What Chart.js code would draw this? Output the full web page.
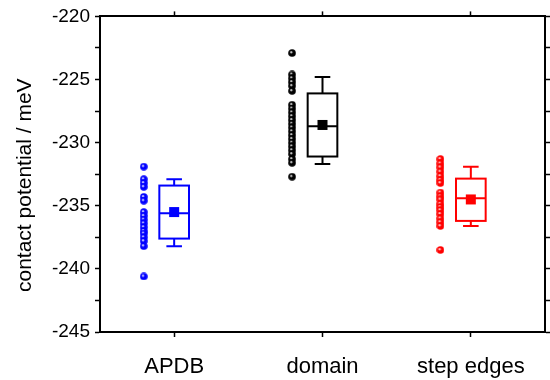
<!DOCTYPE html>
<html>
<head>
<meta charset="utf-8">
<script src="https://cdn.jsdelivr.net/npm/chart.js@4.4.1/dist/chart.umd.min.js"></script>
<style>
  html, body { margin: 0; padding: 0; background: #fff; }
</style>
</head>
<body>
<canvas id="chart" width="550" height="380"></canvas>
<script>
// Categories and colours
const groups = ['APDB', 'domain', 'step edges'];
const groupColors = ['#0000ff', '#000000', '#ff0000'];

const apdbValues = [-231.9, -232.9, -233.2, -233.5, -234.3, -234.6, -235.5, -235.8, -236.1,
    -236.4, -236.7, -237.0, -237.2, -237.5, -237.8, -238.2, -240.6];
const domainValues = [-222.9, -224.6, -224.9, -225.2, -225.5, -225.9, -227.0, -227.3, -227.6,
    -227.9, -228.2, -228.5, -228.8, -229.1, -229.4, -229.7, -230.0, -230.3, -230.6, -230.9,
    -231.3, -231.6, -232.7];
const stepValues = [-231.3, -231.65, -231.95, -232.3, -232.65, -232.95, -233.2, -233.95, -234.25,
    -234.5, -234.85, -235.1, -235.35, -235.65, -236.0, -236.3, -236.6, -238.5];

// Box statistics per group
const boxQ1 = [-237.6, -231.1, -236.2];
const boxQ3 = [-233.4, -226.1, -232.85];
const boxMedian = [-235.6, -228.7, -234.4];
const boxMean = [-235.5, -228.6, -234.5];
const whiskerLow = [-238.2, -231.7, -236.6];
const whiskerHigh = [-232.9, -224.8, -231.9];

// Axis range
const yMin = -245;
const yMax = -220;
const yStep = 2.5;

// Layout / style constants
const FONT = "'Liberation Sans', Arial, sans-serif";
const dotOffset = -0.205;   // dots sit left of the box
const boxWidth = 0.2;       // in category units
const capWidth = 0.105;

const allValues = [apdbValues, domainValues, stepValues];

// little shaded ball used as point marker
function makeBall(color) {
    const c = document.createElement('canvas');
    c.width = 8; c.height = 8;
    const g = c.getContext('2d');
    const grad = g.createRadialGradient(3, 3, 0.3, 4, 4, 4);
    grad.addColorStop(0, '#ffffff');
    grad.addColorStop(0.35, color);
    grad.addColorStop(1, color);
    g.fillStyle = grad;
    g.beginPath();
    g.arc(4, 4, 3.8, 0, Math.PI * 2);
    g.fill();
    return c;
}

const datasets = groups.map((name, i) => ({
    label: name,
    data: allValues[i].map(v => ({ x: i + 1 + dotOffset, y: v })),
    pointStyle: makeBall(groupColors[i]),
    pointRadius: 4,
    showLine: false
}));

// Boxes, whiskers, medians, means + the rotated y title
const boxPlugin = {
    id: 'boxes',
    afterDatasetsDraw(chart) {
        const { ctx, scales: { x, y } } = chart;
        groups.forEach((name, i) => {
            const cx = x.getPixelForValue(i + 1);
            const half = x.getPixelForValue(i + 1 + boxWidth / 2) - cx;
            const capHalf = x.getPixelForValue(i + 1 + capWidth / 2) - cx;
            const top = y.getPixelForValue(boxQ3[i]);
            const bottom = y.getPixelForValue(boxQ1[i]);
            const wTop = y.getPixelForValue(whiskerHigh[i]);
            const wBottom = y.getPixelForValue(whiskerLow[i]);
            const med = y.getPixelForValue(boxMedian[i]);
            const mean = y.getPixelForValue(boxMean[i]);

            ctx.save();
            ctx.strokeStyle = groupColors[i];
            ctx.fillStyle = groupColors[i];
            ctx.lineWidth = 2;
            ctx.strokeRect(cx - half, top, half * 2, bottom - top);

            ctx.beginPath();
            ctx.moveTo(cx - half, med); ctx.lineTo(cx + half, med);
            // whiskers
            ctx.moveTo(cx, top); ctx.lineTo(cx, wTop);
            ctx.moveTo(cx - capHalf, wTop); ctx.lineTo(cx + capHalf, wTop);
            ctx.moveTo(cx, bottom); ctx.lineTo(cx, wBottom);
            ctx.moveTo(cx - capHalf, wBottom); ctx.lineTo(cx + capHalf, wBottom);
            ctx.stroke();

            ctx.fillRect(cx - 5, mean - 5, 10, 10);
            ctx.restore();
        });
    },
    afterDraw(chart) {
        const { ctx, chartArea } = chart;
        ctx.save();
        ctx.translate(25, (chartArea.top + chartArea.bottom) / 2 + 11);
        ctx.rotate(-Math.PI / 2);
        ctx.font = '21px ' + FONT;
        ctx.fillStyle = '#000';
        ctx.textAlign = 'center';
        ctx.textBaseline = 'middle';
        ctx.fillText('contact potential / meV', 0, 0);
        ctx.restore();
    }
};

const categoryTicks = scale => { scale.ticks = groups.map((g, i) => ({ value: i + 1 })); };
const axisBorder = { display: true, color: '#000', width: 2 };
const outerTicks = { display: true, drawOnChartArea: false, drawTicks: true, tickLength: 5, tickColor: '#000', tickWidth: 1.5 };

new Chart(document.getElementById('chart'), {
    type: 'scatter',
    data: { datasets: datasets },
    options: {
        responsive: false,
        animation: false,
        layout: { padding: 0 },
        plugins: { legend: { display: false }, tooltip: { enabled: false } },
        scales: {
            x: {
                type: 'linear', position: 'bottom', min: 0.5, max: 3.5,
                afterBuildTicks: categoryTicks,
                afterFit: s => { s.height = 48; },
                border: axisBorder, grid: outerTicks,
                ticks: {
                    color: '#000', padding: 17, maxRotation: 0,
                    font: { family: FONT, size: 22 },
                    callback: v => groups[Math.round(v) - 1]
                }
            },
            xTop: {
                type: 'linear', position: 'top', min: 0.5, max: 3.5,
                afterBuildTicks: categoryTicks,
                afterFit: s => { s.height = 16; },
                border: axisBorder, grid: outerTicks,
                ticks: { display: false }
            },
            y: {
                type: 'linear', position: 'left', min: yMin, max: yMax,
                afterFit: s => { s.width = 100; },
                border: axisBorder, grid: outerTicks,
                ticks: {
                    stepSize: yStep, color: '#000', padding: 5,
                    font: { family: FONT, size: 19 },
                    callback: v => (v % 5 === 0 ? String(v) : '')
                }
            },
            yRight: {
                type: 'linear', position: 'right', min: yMin, max: yMax,
                afterFit: s => { s.width = 3; },
                border: axisBorder, grid: outerTicks,
                ticks: { stepSize: yStep, display: false }
            }
        }
    },
    plugins: [boxPlugin]
});
</script>
</body>
</html>
